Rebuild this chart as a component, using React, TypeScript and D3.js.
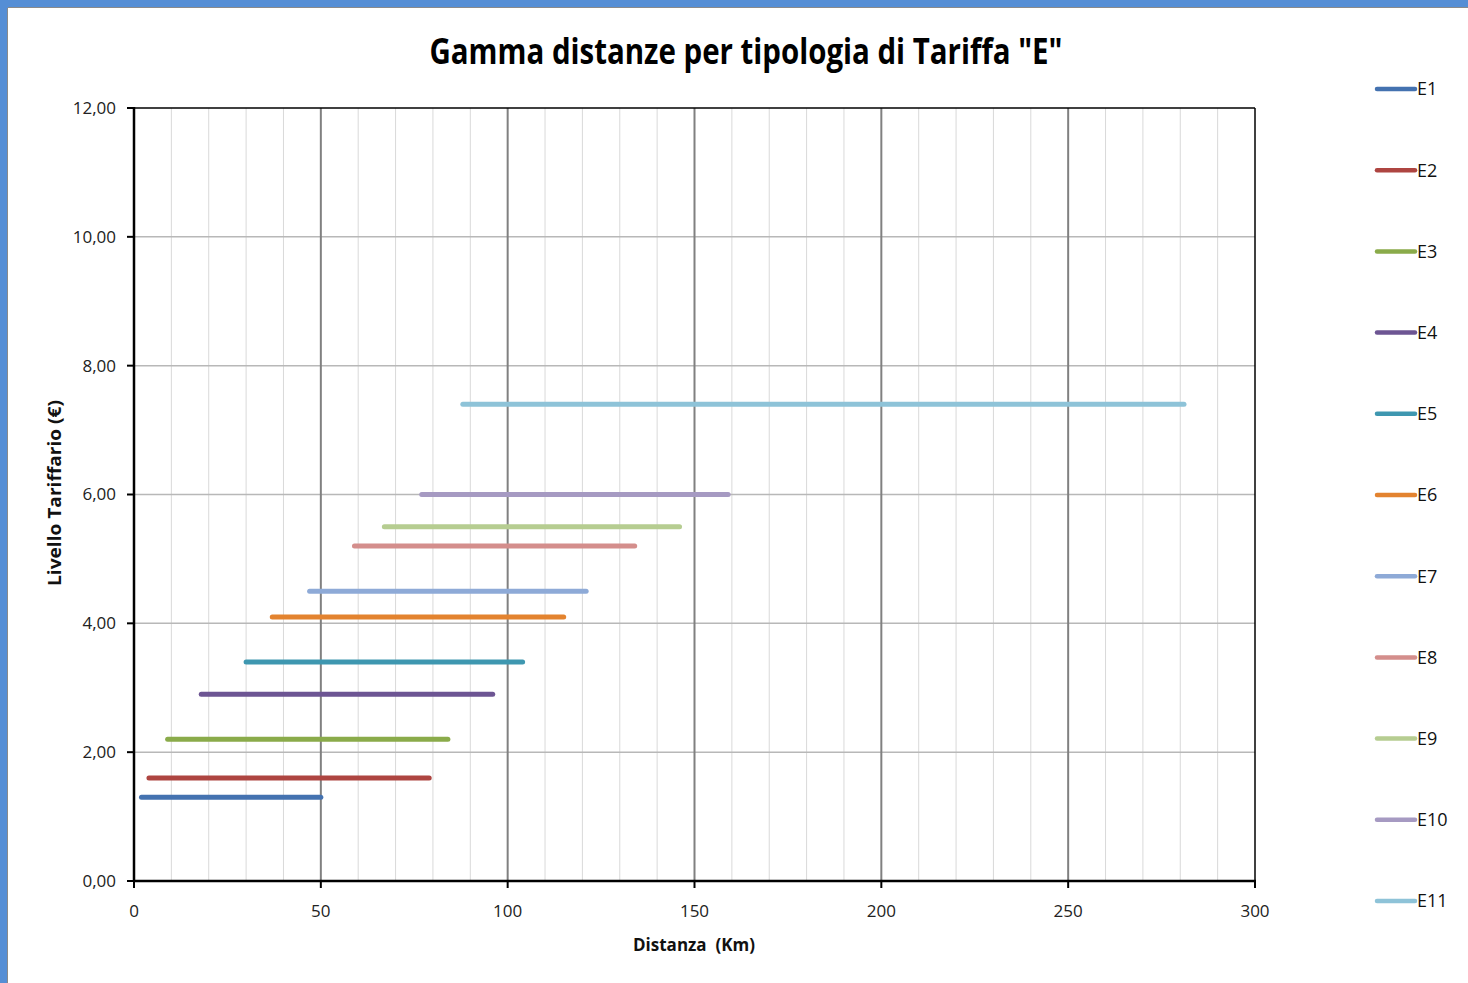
import React from "react";
import * as d3 from "d3";

const seriesNames = ["E1", "E2", "E3", "E4", "E5", "E6", "E7", "E8", "E9", "E10", "E11"];
const distFrom = [2, 4, 9, 18, 30, 37, 47, 59, 67, 77, 88];
const distTo = [50, 79, 84, 96, 104, 115, 121, 134, 146, 159, 281];
const tariffLevel = [1.3, 1.6, 2.2, 2.9, 3.4, 4.1, 4.5, 5.2, 5.5, 6.0, 7.4];
const seriesColors = [
  "#4472b0", "#ae4541", "#8aab4a", "#6d5593", "#3e97b0", "#e3832f",
  "#8eaad7", "#d48e8c", "#b6cd91", "#a69ac2", "#8ec3d8",
];
const yTicks = [0, 2, 4, 6, 8, 10, 12];
const xMajorTicks = [0, 50, 100, 150, 200, 250, 300];
const xMinorTicks = d3.range(10, 300, 10).filter((v) => v % 50 !== 0);

const W = 1468;
const H = 983;
const plot = { left: 134, right: 1255, top: 108, bottom: 881 };
const FONT = "'Open Sans', 'Noto Sans', sans-serif";

export default function App() {
  const x = d3.scaleLinear().domain([0, 300]).range([plot.left, plot.right]);
  const y = d3.scaleLinear().domain([0, 12]).range([plot.bottom, plot.top]);
  const fmt = (v: number) => d3.format(".2f")(v).replace(".", ",");
  const line = d3
    .line<[number, number]>()
    .x((d) => x(d[0]))
    .y((d) => y(d[1]));
  const legendY = d3
    .scalePoint<string>()
    .domain(seriesNames)
    .range([89, 901]);

  return (
    <svg
      width={W}
      height={H}
      style={{ position: "absolute", left: 0, top: 0, background: "#fff" }}
    >
      {/* window frame */}
      <rect x={0} y={0} width={W} height={8} fill="#558ed5" />
      <rect x={0} y={0} width={8} height={H} fill="#558ed5" />
      <line x1={8} x2={W} y1={7.5} y2={7.5} stroke="#8a8a8a" strokeWidth={1} />
      <line x1={7.5} x2={7.5} y1={8} y2={H} stroke="#8a8a8a" strokeWidth={1} />

      <text
        x={746}
        y={64}
        textAnchor="middle"
        fontFamily={FONT}
        fontWeight="bold"
        fontSize={35}
        textLength={633}
        lengthAdjust="spacingAndGlyphs"
        fill="#000"
      >
        Gamma distanze per tipologia di Tariffa "E"
      </text>

      {/* minor vertical grid */}
      {xMinorTicks.map((v) => (
        <line key={"mn" + v} x1={x(v)} x2={x(v)} y1={plot.top} y2={plot.bottom} stroke="#d9d9d9" strokeWidth={1} />
      ))}
      {/* horizontal grid */}
      {yTicks.slice(1, -1).map((v) => (
        <line key={"hg" + v} x1={plot.left} x2={plot.right} y1={y(v)} y2={y(v)} stroke="#b8b8b8" strokeWidth={1.5} />
      ))}
      {/* major vertical grid */}
      {xMajorTicks.slice(1, -1).map((v) => (
        <line key={"mj" + v} x1={x(v)} x2={x(v)} y1={plot.top} y2={plot.bottom} stroke="#808080" strokeWidth={2} />
      ))}

      {/* plot frame */}
      <line x1={plot.left} x2={plot.right} y1={plot.top} y2={plot.top} stroke="#000" strokeWidth={1.5} />
      <line x1={plot.right} x2={plot.right} y1={plot.top} y2={plot.bottom} stroke="#000" strokeWidth={1.5} />
      <line x1={plot.left} x2={plot.left} y1={plot.top - 1} y2={plot.bottom + 1} stroke="#000" strokeWidth={2.5} />
      <line x1={plot.left - 1} x2={plot.right + 1} y1={plot.bottom} y2={plot.bottom} stroke="#000" strokeWidth={2.5} />

      {/* y axis ticks and labels */}
      {yTicks.map((v) => (
        <g key={"yt" + v}>
          <line x1={plot.left - 7} x2={plot.left} y1={y(v)} y2={y(v)} stroke="#000" strokeWidth={2} />
          <text x={116} y={y(v)} dy="0.35em" textAnchor="end" fontFamily={FONT} fontSize={17} fill="#222">
            {fmt(v)}
          </text>
        </g>
      ))}
      {/* x axis ticks and labels */}
      {xMajorTicks.map((v) => (
        <g key={"xt" + v}>
          <line x1={x(v)} x2={x(v)} y1={plot.bottom} y2={plot.bottom + 7} stroke="#000" strokeWidth={2} />
          <text x={x(v)} y={917} textAnchor="middle" fontFamily={FONT} fontSize={17} fill="#222">
            {v}
          </text>
        </g>
      ))}

      <text x={694} y={951} textAnchor="middle" fontFamily={FONT} fontWeight="bold" fontSize={17} fill="#111" style={{ whiteSpace: "pre" }}>
        Distanza  (Km)
      </text>
      <text
        transform={`translate(61, 493) rotate(-90)`}
        textAnchor="middle"
        fontFamily={FONT}
        fontWeight="bold"
        fontSize={17}
        textLength={186}
        lengthAdjust="spacingAndGlyphs"
        fill="#111"
      >
        Livello Tariffario (€)
      </text>

      {/* series */}
      {seriesNames.map((name, i) => (
        <path
          key={name}
          d={line([
            [distFrom[i], tariffLevel[i]],
            [distTo[i], tariffLevel[i]],
          ]) || ""}
          stroke={seriesColors[i]}
          strokeWidth={5}
          strokeLinecap="round"
          fill="none"
        />
      ))}

      {/* legend */}
      {seriesNames.map((name, i) => {
        const ly = legendY(name) as number;
        return (
          <g key={"lg" + name}>
            <line x1={1377} x2={1415} y1={ly} y2={ly} stroke={seriesColors[i]} strokeWidth={4.5} strokeLinecap="round" />
            <text x={1417} y={ly} dy="0.35em" fontFamily={FONT} fontSize={18} fill="#111">
              {name}
            </text>
          </g>
        );
      })}
    </svg>
  );
}
